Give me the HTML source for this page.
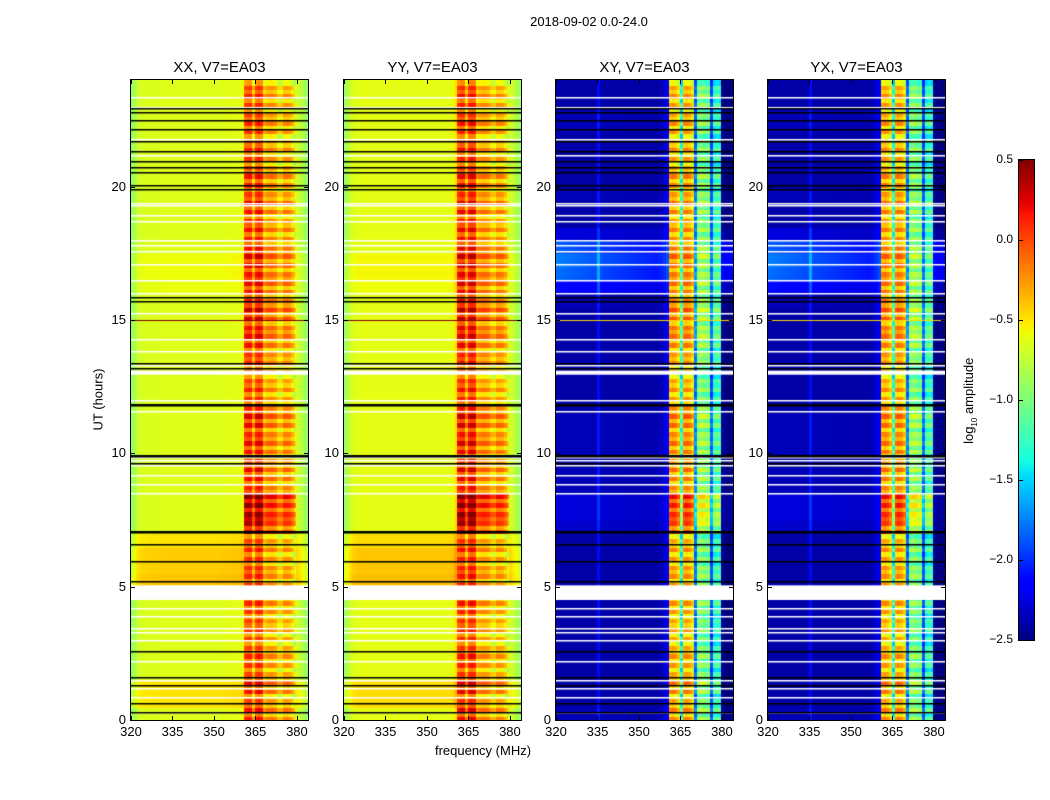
<!DOCTYPE html>
<html><head><meta charset="utf-8"><style>
body{margin:0;background:#fff;width:1050px;height:800px;position:relative;overflow:hidden;font-family:"Liberation Sans","DejaVu Sans",sans-serif;color:#000}
.t{position:absolute;white-space:nowrap}
canvas{position:absolute}
</style></head><body>
<div class="t" style="left:489px;top:14px;width:200px;text-align:center;font-size:13px">2018-09-02 0.0-24.0</div>
<div class="t" style="left:48px;top:392px;width:100px;text-align:center;font-size:13px;transform:rotate(-90deg)">UT (hours)</div>
<div class="t" style="left:403px;top:743px;width:160px;text-align:center;font-size:13px">frequency (MHz)</div>
<div class="t" style="left:910px;top:392px;width:120px;text-align:center;font-size:13px;transform:rotate(-90deg)">log<sub style="font-size:8px">10</sub> amplitude</div>
<div id="root"></div>
<script>
// ---- data ----
const freqStart = 320, freqEnd = 384, tStart = 0, tEnd = 24;
const xTicks = [320, 335, 350, 365, 380];
const yTicks = [0, 5, 10, 15, 20];
const cbTicks = [-2.5, -2.0, -1.5, -1.0, -0.5, 0.0, 0.5];
const panelTitles = ["XX, V7=EA03", "YY, V7=EA03", "XY, V7=EA03", "YX, V7=EA03"];
const panelLeft = [131, 344, 556, 768];
// per-1MHz bin baseline log10 amplitude, 320..383
const profXX = [-0.95,-0.82,-0.72,-0.68,-0.66,-0.66,-0.66,-0.65,-0.65,-0.65,-0.65,-0.64,-0.64,-0.64,-0.64,-0.64,-0.64,-0.64,-0.64,-0.64,-0.64,-0.64,-0.64,-0.64,-0.64,-0.64,-0.64,-0.64,-0.64,-0.64,-0.64,-0.64,-0.64,-0.63,-0.63,-0.63,-0.63,-0.62,-0.62,-0.62,-0.6,-0.05,0.0,0.0,-0.35,0.0,0.05,0.0,-0.4,-0.3,-0.28,-0.28,-0.32,-0.5,-0.5,-0.32,-0.32,-0.34,-0.45,-0.65,-0.68,-0.74,-0.82,-0.92];
const profYY = [-0.9,-0.8,-0.7,-0.65,-0.63,-0.62,-0.62,-0.62,-0.62,-0.62,-0.62,-0.62,-0.62,-0.62,-0.62,-0.62,-0.62,-0.62,-0.62,-0.62,-0.62,-0.62,-0.62,-0.62,-0.62,-0.62,-0.62,-0.62,-0.62,-0.62,-0.62,-0.62,-0.62,-0.62,-0.62,-0.62,-0.62,-0.62,-0.62,-0.6,-0.5,0.0,0.05,0.05,-0.3,0.05,0.1,0.05,-0.35,-0.3,-0.28,-0.28,-0.32,-0.45,-0.48,-0.32,-0.32,-0.35,-0.45,-0.65,-0.68,-0.74,-0.8,-0.9];
const profXY = [-2.4,-2.4,-2.4,-2.4,-2.4,-2.4,-2.4,-2.4,-2.4,-2.4,-2.4,-2.4,-2.4,-2.4,-2.4,-2.1,-2.4,-2.4,-2.4,-2.4,-2.4,-2.4,-2.4,-2.4,-2.4,-2.4,-2.4,-2.4,-2.4,-2.4,-2.4,-2.4,-2.4,-2.4,-2.4,-2.4,-2.4,-2.38,-2.35,-2.3,-2.2,-0.35,-0.3,-0.35,-0.5,-1.3,-0.35,-0.3,-0.35,-0.5,-1.8,-1.0,-0.95,-0.95,-1.05,-1.0,-1.9,-1.25,-1.2,-1.25,-2.45,-2.5,-2.5,-2.5];
const profYX = profXY.slice();
// half-hour modulation, 0..24h (48 bins)
const bandBoost = [0.05,0,0.1,0,0,0,-0.05,0,0,0,0,0.05,0,0,0.25,0.4,0.4,0.1,0.1,0.05,0.1,0.1,0.15,0.1,0,0,0,0.05,0.1,0.15,0.2,0.15,0.1,0.15,0.15,0.15,0.05,0.05,0.1,0.05,0.05,0,0,0,0,0,0,0];
const bgXX = [0,0.15,0.15,0,0,0,0,0,0,0,0.25,0.22,0.22,0.15,0,0,0,0,0,0,0,0,0,0,0,0,0,0,0,0,0,0,0.04,0.06,0.06,0,0,0,0,0,0,0,0,0,0,0,0,0];
const bgXY = [0.05,0,0,0,0,0,0,0,0,0,0,0,0,0,0.1,0.15,0.15,0.05,0.05,0,0.05,0.05,0.05,0,0,0,0.05,0,0,0,0,0.05,0.3,0.6,0.65,0.55,0.15,0,0,0.05,0,0,0,0,0.05,0.05,0,0];
const ripple = [0.1,-0.2,0.15,-0.1,0.05,-0.25];
const blackLines = [0.3,0.65,1.3,1.6,2.6,5.2,5.95,6.6,7.05,7.1,9.65,9.9,9.95,11.8,11.85,13.2,13.4,15.7,15.85,19.9,20.05,20.55,20.75,20.95,21.35,21.7,22.15,22.5,22.8,22.95];
const whiteLines = [0.3,0.85,1.2,1.5,2.2,3.0,3.3,3.45,3.9,4.2,8.5,8.85,9.2,9.55,9.75,9.85,11.6,12.0,13.3,13.85,14.3,15.25,16.0,16.5,17.1,17.6,17.8,18.0,18.7,18.95,19.3,19.4,21.2,21.8,23.0,23.35];
const whiteBands = [[4.5,5.05],[12.95,13.1]];
const profiles = [profXX, profYY, profXY, profYX];
const bgs = [bgXX, bgXX, bgXY, bgXY];
// ---- drawing ----
const PW = 177, PH = 640, PT = 80;
function xS(f){return (f - freqStart) / (freqEnd - freqStart) * PW;}
function yS(t){return PH - (t - tStart) / (tEnd - tStart) * PH;}
function seg(pts, x){
  for (let i = 1; i < pts.length; i++) {
    if (x <= pts[i][0]) { const a = pts[i-1], b = pts[i]; return a[1] + (b[1]-a[1]) * (x - a[0]) / (b[0] - a[0]); }
  }
  return pts[pts.length-1][1];
}
const JR = [[0,0],[0.35,0],[0.66,1],[0.89,1],[1,0.5]];
const JG = [[0,0],[0.125,0],[0.375,1],[0.64,1],[0.91,0],[1,0]];
const JB = [[0,0.5],[0.11,1],[0.34,1],[0.65,0],[1,0]];
function jet(v){
  let x = (v + 2.5) / 3; x = Math.max(0, Math.min(1, x));
  return `rgb(${Math.round(seg(JR,x)*255)},${Math.round(seg(JG,x)*255)},${Math.round(seg(JB,x)*255)})`;
}
const root = document.getElementById('root');
function txt(name, s, css){
  const d = document.createElement('div');
  d.className = 't';
  
  
  d.style.cssText = css; d.textContent = s; root.appendChild(d);
}
panelTitles.forEach((title, p) => {
  const L = panelLeft[p];
  const cv = document.createElement('canvas');
  
  
  cv.width = PW; cv.height = PH;
  cv.style.left = L + 'px'; cv.style.top = PT + 'px';
  root.appendChild(cv);
  const g = cv.getContext('2d');
  const prof = profiles[p], bg = bgs[p];
  const nRows = 144;
  for (let r = 0; r < nRows; r++) {
    const t0 = r * 24 / nRows, t1 = (r+1) * 24 / nRows;
    const h = Math.floor(t0 * 2);
    for (let c = 0; c < prof.length; c++) {
      const base = prof[c];
      const inBand = (c + freqStart) >= 361 && (c + freqStart) <= 379;
      const fade = p >= 2 ? Math.max(0, 1 - c / 40) * 0.5 + 0.5 : 1;
      const v = inBand ? base + bandBoost[h] + ripple[r % ripple.length] * (base > -1.4 ? 1 : 0.5) : base + bg[h] * fade;
      g.fillStyle = jet(v);
      const x0 = xS(c + freqStart), x1 = xS(c + freqStart + 1);
      g.fillRect(Math.floor(x0), Math.floor(yS(t1)), Math.ceil(x1 - x0) + 1, Math.ceil(yS(t0) - yS(t1)) + 1);
    }
  }
  g.fillStyle = '#fff';
  whiteLines.forEach(t => g.fillRect(0, Math.round(yS(t)), PW, 1.5));
  whiteBands.forEach(b => g.fillRect(0, yS(b[1]), PW, yS(b[0]) - yS(b[1])));
  g.fillStyle = '#000';
  blackLines.forEach(t => g.fillRect(0, Math.round(yS(t)), PW, 1.5));
  g.fillStyle = p < 2 ? '#800000' : '#ffd700';
  g.fillRect(0, Math.round(yS(15)), PW, 1);
  const fr = document.createElement('div');
  
  
  fr.style.cssText = `position:absolute;left:${L-1}px;top:${PT-1}px;width:${PW}px;height:${PH}px;border:1px solid #000`;
  root.appendChild(fr);
  txt('panel-title-' + (p+1), title, `left:${L}px;top:59px;width:${PW}px;text-align:center;font-size:15px`);
  xTicks.forEach(f => {
    const x = L + xS(f);
    txt('x-tick-label', String(f), `left:${x-20}px;top:724px;width:40px;text-align:center;font-size:13px`);
    const a = document.createElement('div');  
    a.style.cssText = `position:absolute;left:${x}px;top:${PT+PH-4}px;width:1px;height:4px;background:#000`; root.appendChild(a);
    const b = document.createElement('div');  
    b.style.cssText = `position:absolute;left:${x}px;top:${PT}px;width:1px;height:4px;background:#000`; root.appendChild(b);
  });
  yTicks.forEach(t => {
    const y = PT + yS(t);
    txt('y-tick-label', String(t), `left:${L-45}px;top:${y-8}px;width:40px;text-align:right;font-size:13px`);
    const a = document.createElement('div');  
    a.style.cssText = `position:absolute;left:${L}px;top:${y}px;width:4px;height:1px;background:#000`; root.appendChild(a);
    const b = document.createElement('div');  
    b.style.cssText = `position:absolute;left:${L+PW-4}px;top:${y}px;width:4px;height:1px;background:#000`; root.appendChild(b);
  });
});
const CBL = 1019, CBT = 160, CBW = 15, CBH = 480;
const cb = document.createElement('canvas');


cb.width = CBW; cb.height = CBH; cb.style.left = CBL + 'px'; cb.style.top = CBT + 'px';
cb.style.outline = '1px solid #000';
root.appendChild(cb);
const cg = cb.getContext('2d');
for (let i = 0; i < CBH; i++) { cg.fillStyle = jet(0.5 - i / CBH * 3); cg.fillRect(0, i, CBW, 1); }
cbTicks.forEach(v => {
  const y = CBT + (0.5 - v) / 3 * CBH;
  txt('colorbar-tick-label', (v < 0 ? '\u2212' + Math.abs(v).toFixed(1) : v.toFixed(1)), `left:${970}px;top:${y-8}px;width:43px;text-align:right;font-size:12px`);
  const a = document.createElement('div');  
  a.style.cssText = `position:absolute;left:${CBL}px;top:${y}px;width:4px;height:1px;background:#000`; root.appendChild(a);
});
</script>
</body></html>
